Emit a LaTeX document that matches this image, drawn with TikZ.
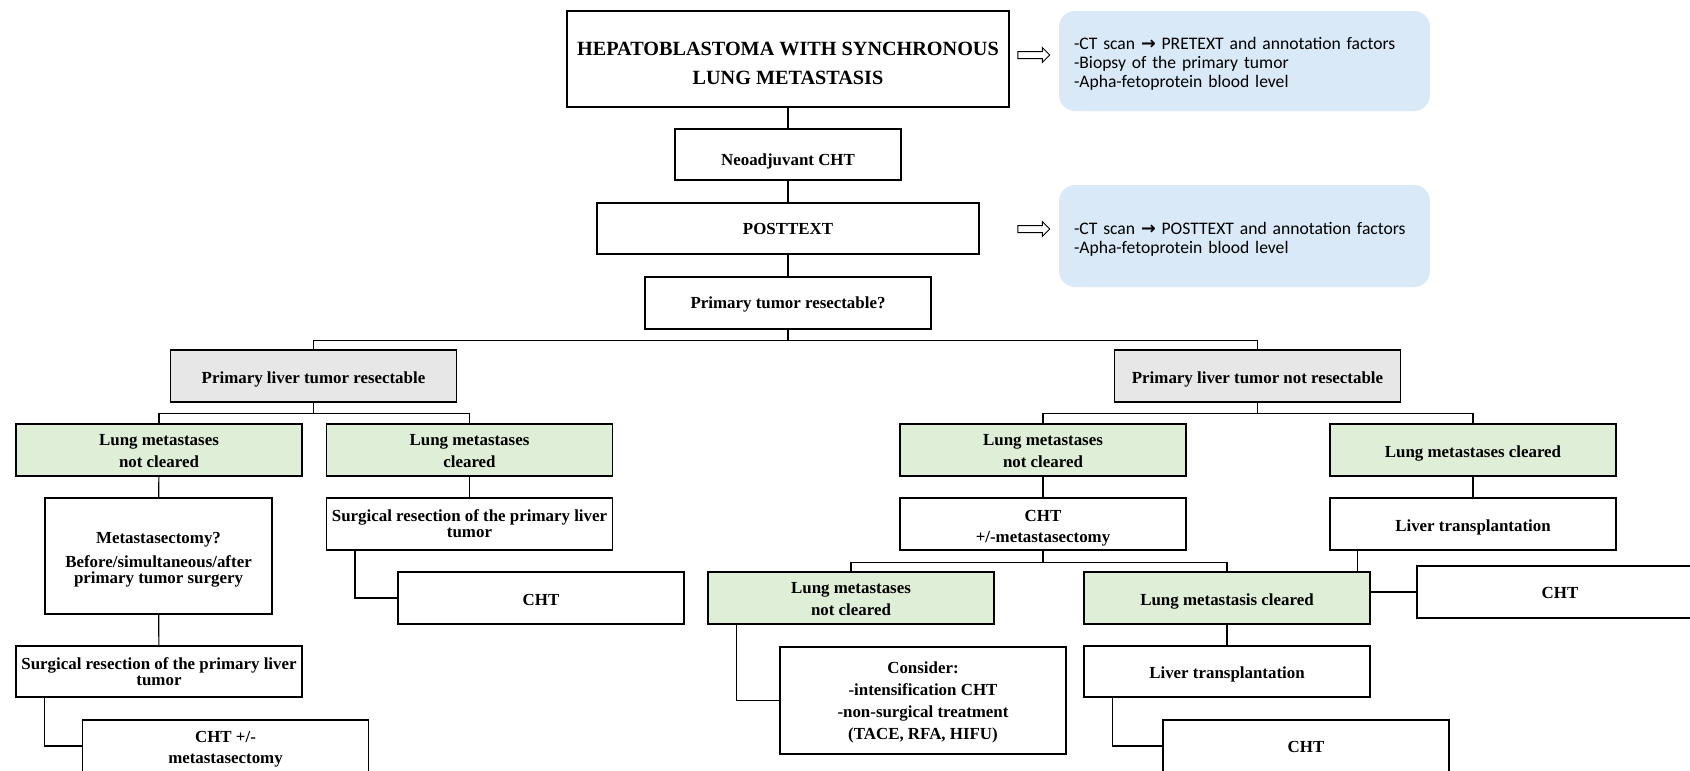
\documentclass[tikz,border=0pt]{standalone}
\usepackage{fontspec}
\setmainfont{Liberation Serif}
\newfontfamily\notefont{Carlito}
\newfontfamily\symfont{DejaVu Sans}
\usepackage{tikz}
\usetikzlibrary{shapes.arrows}
\usetikzlibrary{backgrounds}
\definecolor{notecol}{RGB}{218,233,247}
\definecolor{lungcol}{RGB}{222,238,215}
\definecolor{greycol}{RGB}{231,231,231}
% pushes the text of a box a little down
\newcommand{\txtdrop}[1]{\rule{0pt}{\dimexpr11.5pt+#1\relax}}
\tikzset{
	box/.style={draw=black, line width=1.2pt, fill=white, align=center, inner sep=1pt,
		minimum width=286pt, minimum height=52pt, font=\bfseries\fontsize{16.9}{16}\selectfont},
	lungbox/.style={box, fill=lungcol},
	greybox/.style={box, fill=greycol},
	notebox/.style={fill=notecol, rounded corners=16pt, text width=341pt, inner xsep=15pt, inner ysep=12pt,
		align=left, font=\notefont\fontsize{17.6}{19}\selectfont},
	hollow/.style={single arrow, draw=black, line width=1pt, fill=white, inner sep=3pt,
		minimum height=32pt, single arrow head extend=4pt},
	link/.style={draw=black, line width=1.2pt},
}

\begin{document}
\begin{tikzpicture}[x=1pt, y=-1pt]
	\useasboundingbox (0,0) rectangle (1690,771);
	% main column
	\node[box, minimum width=442pt, minimum height=96pt, font=\bfseries\fontsize{20.2}{29}\selectfont] (hb) at (788,59)
		{\rule{0pt}{22.5pt}HEPATOBLASTOMA WITH SYNCHRONOUS\\LUNG METASTASIS};
	\node[box, minimum width=226pt, minimum height=51pt] (neo) at (788,154.5) {\txtdrop{15pt}Neoadjuvant CHT};
	\node[box, minimum width=382pt, minimum height=51pt] (post) at (788,228.5) {POSTTEXT};
	\node[box] (resq) at (788,303) {\txtdrop{4pt}Primary tumor resectable?};
	% notes
	\node[hollow] (arr1) at (1032,55) {};
	\node[hollow] (arr2) at (1032,229) {};
	\node[notebox, minimum height=100pt] (note1) at (1244.5,61) {\rule{0pt}{18.5pt}-CT scan {\symfont\bfseries →} PRETEXT and annotation factors\\-Biopsy of the primary tumor\\-Apha-fetoprotein blood level};
	\node[notebox, minimum height=102pt] (note2) at (1244.5,236) {\rule{0pt}{18.5pt}-CT scan {\symfont\bfseries →} POSTTEXT and annotation factors\\-Apha-fetoprotein blood level};
	% resectable
	\node[greybox] (resL) at (313.5,376) {\txtdrop{6.5pt}Primary liver tumor resectable};
	\node[lungbox] (lncL) at (159,450) {\txtdrop{2pt}Lung metastases\\[5.5pt]not cleared};
	\node[lungbox] (lcL) at (469.5,450) {\txtdrop{2pt}Lung metastases\\[5.5pt]cleared};
	\node[box, minimum width=227pt, minimum height=116pt] (meta) at (158.5,556) {\txtdrop{7pt}Metastasectomy?\\[7.5pt]Before/simultaneous/after\\primary tumor surgery};
	\node[box] (surgC) at (469.5,524) {Surgical resection of the primary liver\\tumor};
	\node[box] (chtC) at (541,598) {\txtdrop{4pt}CHT};
	\node[box, minimum height=51pt] (surgL) at (159,671.5) {Surgical resection of the primary liver\\tumor};
	\node[box] (chtmL) at (225.5,746) {\txtdrop{6pt}CHT +/-\\[5.5pt]metastasectomy};
	% not resectable
	\node[greybox] (resR) at (1257.5,376) {\txtdrop{6.5pt}Primary liver tumor not resectable};
	\node[lungbox] (lncR) at (1043,450) {\txtdrop{2pt}Lung metastases\\[5.5pt]not cleared};
	\node[lungbox] (lcR) at (1473,450) {\txtdrop{6.5pt}Lung metastases cleared};
	\node[box] (chtR) at (1043,524) {\txtdrop{8.5pt}CHT\\[5.5pt]+/-metastasectomy};
	\node[box] (livR) at (1473,524) {\txtdrop{6.5pt}Liver transplantation};
	\node[lungbox] (lnc2) at (851,598) {\txtdrop{2pt}Lung metastases\\[5.5pt]not cleared};
	\node[lungbox] (lc2) at (1227,598) {\txtdrop{6.5pt}Lung metastasis cleared};
	\node[box] (chtX) at (1560,592) {\txtdrop{2pt}CHT};
	\node[box, minimum height=107pt] (cons) at (923,700.5) {\txtdrop{4pt}Consider:\\[6pt]-intensification CHT\\[6pt]-non-surgical treatment\\[6pt](TACE, RFA, HIFU)};
	\node[box, minimum height=51pt] (liv2) at (1227,671.5) {\txtdrop{6.5pt}Liver transplantation};
	\node[box] (chtB) at (1306,746) {\txtdrop{2pt}CHT};
	% connectors
	\begin{scope}[on background layer]
		\draw[link] (hb) -- (neo);
		\draw[link] (neo) -- (post);
		\draw[link] (post) -- (resq);
		\draw[link] (resq.south) -- ++(0,11) -| (resL.north);
		\draw[link] (resq.south) -- ++(0,11) -| (resR.north);
		\draw[link] (resL.south) -- ++(0,11) -| (lncL.north);
		\draw[link] (resL.south) -- ++(0,11) -| (lcL.north);
		\draw[link] (resR.south) -- ++(0,11) -| (lncR.north);
		\draw[link] (resR.south) -- ++(0,11) -| (lcR.north);
		\draw[link] (lncL) -- (meta);
		\draw[link] (meta) -- (surgL);
		\draw[link] (lcL) -- (surgC);
		\draw[link] ([xshift=29pt]surgC.south west) |- (chtC.west);
		\draw[link] ([xshift=29pt]surgL.south west) |- (chtmL.west);
		\draw[link] (lncR) -- (chtR);
		\draw[link] (lcR) -- (livR);
		\draw[link] (chtR.south) -- ++(0,12) -| (lnc2.north);
		\draw[link] (chtR.south) -- ++(0,12) -| (lc2.north);
		\draw[link] ([xshift=28pt]livR.south west) |- (chtX.west);
		\draw[link] ([xshift=29pt]lnc2.south west) |- (cons.west);
		\draw[link] (lc2) -- (liv2);
		\draw[link] ([xshift=29pt]liv2.south west) |- (chtB.west);
	\end{scope}
\end{tikzpicture}
\end{document}
